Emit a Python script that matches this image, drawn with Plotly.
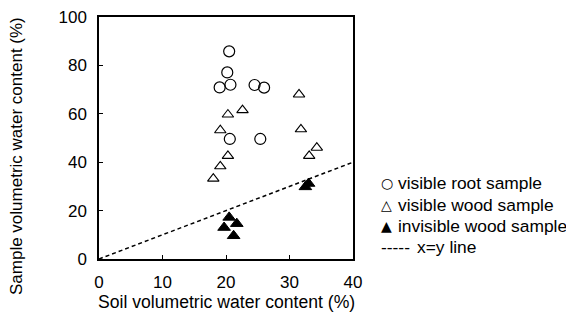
import plotly.graph_objects as go

# ---- data ----
root_x = [20.5, 20.2, 19.0, 20.7, 24.5, 26.0, 20.6, 25.4]
root_y = [85.8, 77.1, 70.9, 72.0, 71.9, 70.8, 49.6, 49.6]

wood_x = [31.5, 22.6, 20.3, 31.8, 19.1, 34.3, 33.1, 20.3, 19.1, 18.0]
wood_y = [68.0, 61.5, 59.7, 53.6, 53.2, 46.0, 42.6, 42.6, 38.3, 33.2]

inv_x = [20.5, 21.7, 19.7, 21.2, 33.0, 32.5]
inv_y = [17.2, 14.6, 13.0, 9.6, 31.2, 29.8]

line_x = [0, 40]
line_y = [0, 40]

x_ticks = [0, 10, 20, 30, 40]
y_ticks = [0, 20, 40, 60, 80, 100]

x_title = "Soil volumetric water content (%)"
y_title = "Sample volumetric water content (%)"
legend_labels = ["visible root sample", "visible wood sample",
                 "invisible wood sample", "x=y line"]
legend_symbols = ["○", "△", "▲", "-----"]

FONT = "Arial, Liberation Sans, sans-serif"
OFF = 8  # default body margin of the html page
W, H = 574 - OFF, 322 - OFF
L, R, T, B = 91, 221, 9, 63
PW, PH = W - L - R, H - T - B


def px(x):
    return (x - OFF - L) / PW


def py(y):
    return (H - B - (y - OFF)) / PH


fig = go.Figure()
fig.add_trace(go.Scatter(x=line_x, y=line_y, mode="lines",
                         line=dict(color="black", width=1.5, dash="4px,3px"),
                         showlegend=False, hoverinfo="skip"))
fig.add_trace(go.Scatter(x=root_x, y=root_y, mode="markers",
                         marker=dict(symbol="circle-open", size=11, color="black",
                                     line=dict(width=1.2, color="black")),
                         showlegend=False))
fig.add_trace(go.Scatter(x=wood_x, y=wood_y, mode="markers",
                         marker=dict(symbol="triangle-up-open", size=10, color="black",
                                     line=dict(width=1.1, color="black")),
                         showlegend=False))
fig.add_trace(go.Scatter(x=inv_x, y=inv_y, mode="markers",
                         marker=dict(symbol="triangle-up", size=11, color="black",
                                     line=dict(width=1, color="black")),
                         showlegend=False))

annotations = []
rows_y = [183, 205, 226, 247]
sym_x = [379, 379, 379, 379]
sym_font = ["DejaVu Sans", "DejaVu Sans", "DejaVu Sans", FONT]
sym_size = [14, 14, 14, 17.4]
text_x = [396, 396, 396, 415]
for i in range(4):
    annotations.append(dict(x=px(sym_x[i]), y=py(rows_y[i]), xref="paper", yref="paper",
                            text=legend_symbols[i], showarrow=False, xanchor="left",
                            yanchor="middle",
                            font=dict(family=sym_font[i], size=sym_size[i], color="black")))
    annotations.append(dict(x=px(text_x[i]), y=py(rows_y[i]), xref="paper", yref="paper",
                            text=legend_labels[i], showarrow=False, xanchor="left",
                            yanchor="middle", font=dict(family=FONT, size=17.4, color="black")))

annotations.append(dict(x=px(226), y=py(302), xref="paper", yref="paper",
                        text=x_title, showarrow=False, xanchor="center", yanchor="middle",
                        font=dict(family=FONT, size=17.6, color="black")))
# rotated y title; non-breaking spaces keep it on a single line
annotations.append(dict(x=px(16), y=py(156), xref="paper", yref="paper",
                        text=y_title.replace(" ", "\u00a0"), textangle=-90,
                        showarrow=False, xanchor="center", yanchor="middle",
                        font=dict(family=FONT, size=17, color="black")))

fig.update_layout(
    width=W, height=H,
    margin=dict(l=L, r=R, t=T, b=B, autoexpand=False),
    paper_bgcolor="white", plot_bgcolor="white",
    font=dict(family=FONT, size=17, color="black"),
    annotations=annotations,
    showlegend=False,
    xaxis=dict(range=[0, 40], tickvals=x_ticks, ticks="inside", ticklen=4,
               tickwidth=1, tickcolor="black", showline=True, linecolor="black",
               linewidth=1.5, mirror=True, showgrid=False, zeroline=False,
               ticklabelstandoff=7, ticklabeloverflow="allow", tickfont=dict(size=17)),
    yaxis=dict(range=[0, 100], tickvals=y_ticks, ticks="inside", ticklen=4,
               tickwidth=1, tickcolor="black", showline=True, linecolor="black",
               linewidth=1.5, mirror=True, showgrid=False, zeroline=False,
               ticklabelstandoff=7, ticklabeloverflow="allow", tickfont=dict(size=17)),
)

fig.write_html("out.html")
